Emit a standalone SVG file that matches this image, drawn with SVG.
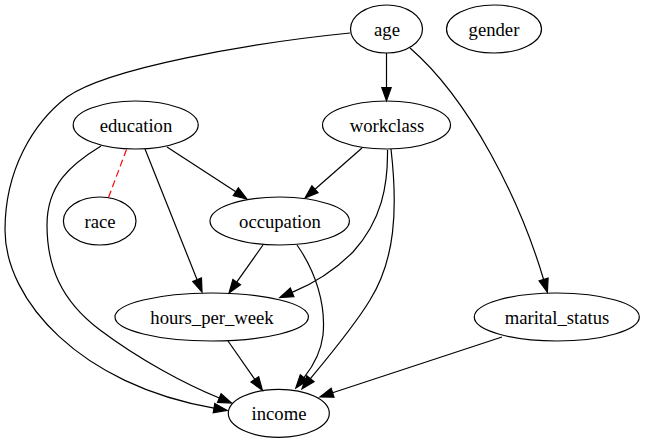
<svg xmlns="http://www.w3.org/2000/svg" width="645" height="443" viewBox="0 0 645 443">
<defs>
<style>
.node ellipse{fill:none;stroke:#000;stroke-width:1.2}
.node text{font-family:'Liberation Serif','Times New Roman',serif;font-size:18.67px;text-anchor:middle;fill:#000}
.edge path{fill:none;stroke:#000;stroke-width:1.2}
.edge path.arr{marker-end:url(#ah)}
.edge path.undir{stroke:#ff0000;stroke-dasharray:7,4}
</style>
<marker id="ah" markerUnits="userSpaceOnUse" markerWidth="16" markerHeight="12" refX="0" refY="0" viewBox="0 -6 16 12" orient="auto" overflow="visible">
<path d="M0,-4.7 L13.3,0 L0,4.7 Z" fill="#000" stroke="#000" stroke-width="1.2"/>
</marker>
</defs>
<rect width="645" height="443" fill="#fff"/>
<g id="edges" class="edge">
<path class="arr" d="M386.5,53 L386.5,87.5"/>
<path class="arr" d="M410,48 C470,100 520,200 543.6,279.5"/>
<path class="arr" d="M350,33 C250,43 108,68 67,97 C33,123 5,170 5,230 C5,300 80,385 214,408.1"/>
<path class="undir" d="M126.5,149.5 L108.5,197.5"/>
<path class="arr" d="M167,147 L235.8,191.8"/>
<path class="arr" d="M145,149 L197.1,279.7"/>
<path class="arr" d="M101,146 C70,165 47,185 47,225 C47,265 60,300 100,330 C140,360 185,384 219.3,398"/>
<path class="arr" d="M362,148 L315,189.2"/>
<path class="arr" d="M387.5,150 C388,185 382,220 353,252 C337,268 315,283 292.1,292.4"/>
<path class="arr" d="M391,149 C398,210 395,260 370,300 C355,325 330,355 310.4,378.7"/>
<path class="arr" d="M263,245 L236.7,282.1"/>
<path class="arr" d="M297,245 C316,272 326,305 323,335 C321,352 314,365 304,377.7"/>
<path class="arr" d="M228,341 L254.8,379.3"/>
<path class="arr" d="M502,337 L332.6,392.8"/>
</g>
<g id="age" class="node"><ellipse cx="386.5" cy="29" rx="36" ry="24"/><text x="387" y="36">age</text></g>
<g id="gender" class="node"><ellipse cx="494" cy="29" rx="47.5" ry="24"/><text x="494" y="36">gender</text></g>
<g id="education" class="node"><ellipse cx="135.7" cy="125" rx="62.5" ry="24"/><text x="136" y="132">education</text></g>
<g id="workclass" class="node"><ellipse cx="386.5" cy="125" rx="64" ry="24"/><text x="387" y="132">workclass</text></g>
<g id="race" class="node"><ellipse cx="99.7" cy="221" rx="36.3" ry="24"/><text x="100" y="228">race</text></g>
<g id="occupation" class="node"><ellipse cx="279.7" cy="221" rx="69.7" ry="24"/><text x="280" y="228">occupation</text></g>
<g id="hours_per_week" class="node"><ellipse cx="211.7" cy="317" rx="96.7" ry="24"/><text x="212" y="324">hours_per_week</text></g>
<g id="marital_status" class="node"><ellipse cx="556.8" cy="317" rx="82.5" ry="24"/><text x="557" y="324">marital_status</text></g>
<g id="income" class="node"><ellipse cx="278.8" cy="413.3" rx="50.5" ry="24"/><text x="279" y="420">income</text></g>
</svg>
